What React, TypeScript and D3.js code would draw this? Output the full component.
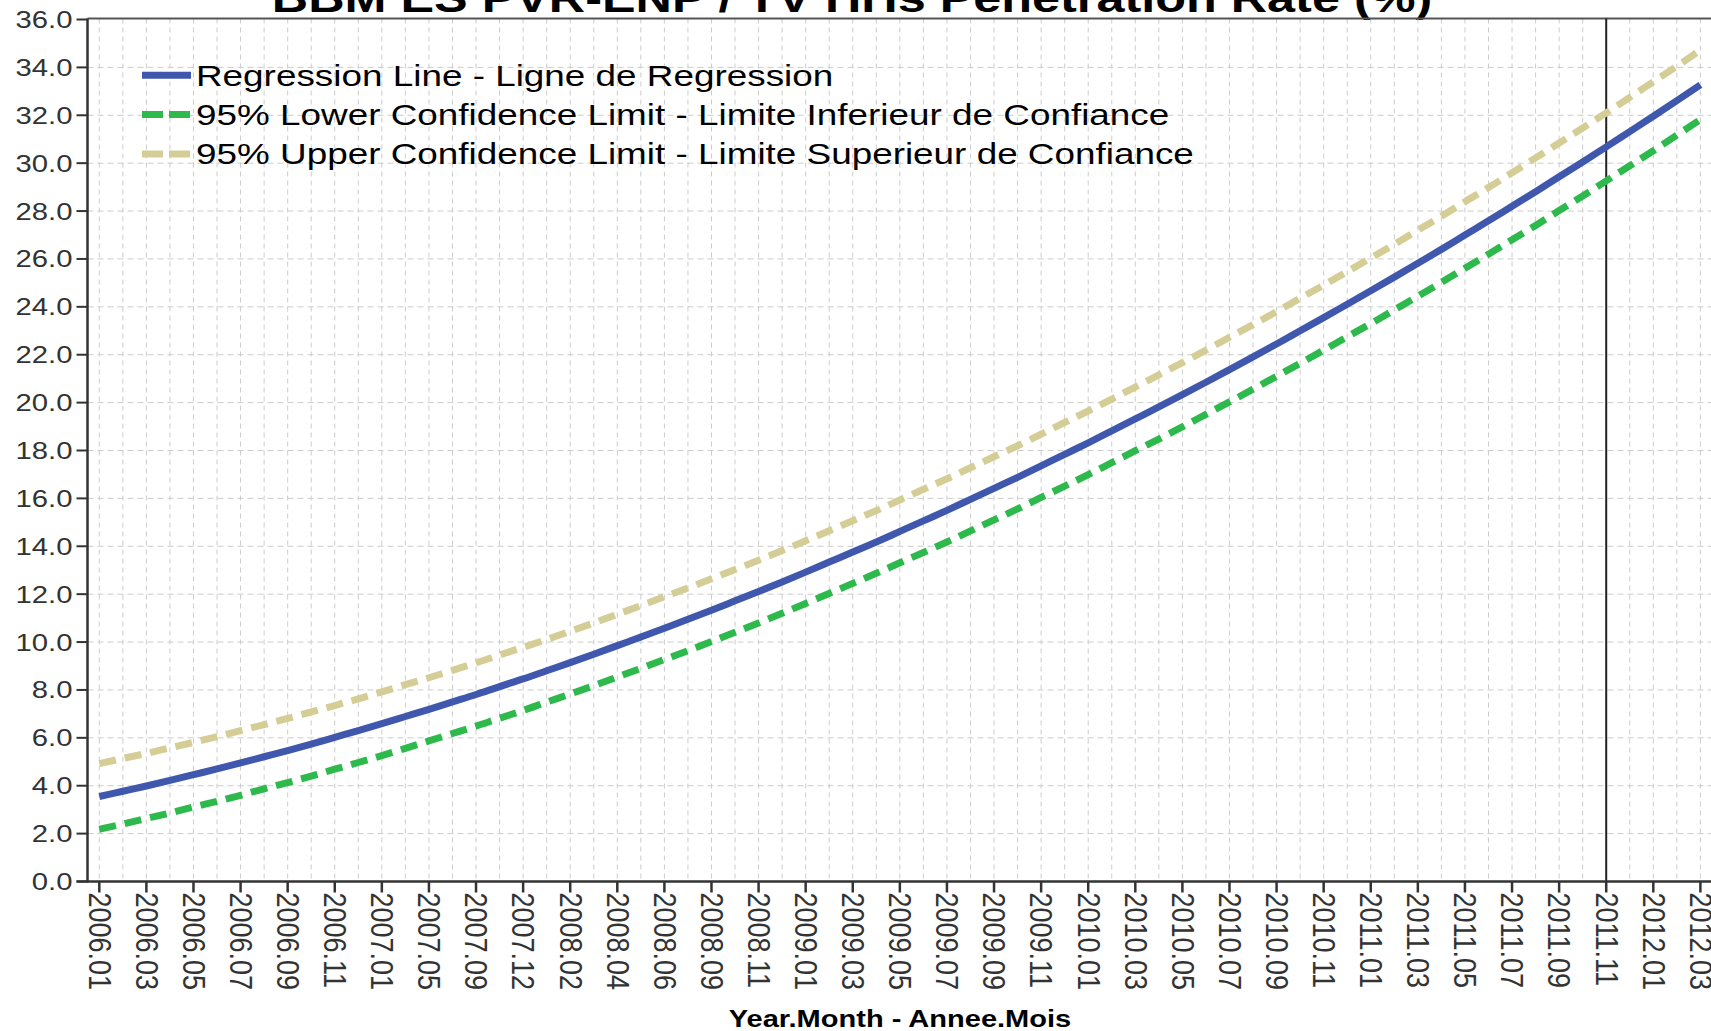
import React from 'react';
import * as d3 from 'd3';

const categories = [
  '2006.01','2006.02','2006.03','2006.04','2006.05','2006.06','2006.07','2006.08','2006.09','2006.10','2006.11','2006.12',
  '2007.01','2007.03','2007.05','2007.07','2007.09','2007.11','2007.12',
  '2008.01','2008.02','2008.03','2008.04','2008.05','2008.06','2008.07','2008.09','2008.10','2008.11','2008.12',
  '2009.01','2009.02','2009.03','2009.04','2009.05','2009.06','2009.07','2009.08','2009.09','2009.10','2009.11','2009.12',
  '2010.01','2010.02','2010.03','2010.04','2010.05','2010.06','2010.07','2010.08','2010.09','2010.10','2010.11','2010.12',
  '2011.01','2011.02','2011.03','2011.04','2011.05','2011.06','2011.07','2011.08','2011.09','2011.10','2011.11','2011.12',
  '2012.01','2012.02','2012.03'
];

const regression = [
  3.55,3.77,3.99,4.22,4.46,4.70,4.95,5.21,5.47,5.74,6.02,6.30,
  6.59,6.89,7.19,7.50,7.81,8.14,8.46,
  8.80,9.14,9.49,9.85,10.21,10.58,10.95,11.33,11.72,12.11,12.51,
  12.92,13.34,13.76,14.18,14.62,15.06,15.50,15.96,16.42,16.88,17.36,17.84,
  18.32,18.82,19.32,19.82,20.33,20.85,21.38,21.91,22.45,23.00,23.55,24.11,
  24.67,25.24,25.82,26.40,27.00,27.59,28.20,28.81,29.43,30.05,30.68,31.32,
  31.96,32.61,33.27
];

const lowerCL = [
  2.18,2.40,2.63,2.86,3.11,3.35,3.60,3.87,4.13,4.40,4.69,4.97,
  5.26,5.56,5.87,6.18,6.49,6.82,7.14,
  7.49,7.83,8.18,8.54,8.90,9.27,9.64,10.02,10.41,10.80,11.20,
  11.61,12.03,12.45,12.87,13.31,13.74,14.18,14.64,15.10,15.56,16.04,16.51,
  16.99,17.49,17.99,18.48,18.99,19.51,20.03,20.56,21.10,21.64,22.19,22.75,
  23.30,23.87,24.44,25.02,25.61,26.20,26.80,27.40,28.02,28.63,29.26,29.89,
  30.52,31.17,31.82
];

const upperCL = [
  4.92,5.14,5.35,5.58,5.81,6.05,6.30,6.55,6.81,7.08,7.35,7.63,
  7.92,8.22,8.51,8.82,9.13,9.46,9.78,
  10.11,10.45,10.80,11.16,11.52,11.89,12.26,12.64,13.03,13.42,13.82,
  14.23,14.65,15.07,15.49,15.93,16.38,16.82,17.28,17.74,18.20,18.68,19.17,
  19.65,20.15,20.65,21.16,21.67,22.19,22.73,23.26,23.80,24.36,24.91,25.47,
  26.04,26.61,27.20,27.78,28.39,28.98,29.60,30.22,30.84,31.47,32.10,32.75,
  33.40,34.05,34.72
];

const yTicks = [0, 2, 4, 6, 8, 10, 12, 14, 16, 18, 20, 22, 24, 26, 28, 30, 32, 34, 36];
const referenceCategory = '2011.11';

const titleText = 'BBM ES PVR-ENP / TV HHs Penetration Rate (%)';
const xAxisTitle = 'Year.Month - Annee.Mois';
const seriesNames = [
  'Regression Line - Ligne de Regression',
  '95% Lower Confidence Limit - Limite Inferieur de Confiance',
  '95% Upper Confidence Limit - Limite Superieur de Confiance',
];

const FONT = '"Liberation Sans", Arial, sans-serif';
const SX = 1.22;

export default function App() {
  const W = 1711;
  const H = 1031;
  const axisX = 87.5;
  const topY = 18.5;
  const bottomY = 881.5;

  const x = d3.scalePoint<string>().domain(categories).range([99.3, 1700.4]);
  const y = d3.scaleLinear().domain([0, 36]).range([bottomY, 19.5]);

  const line = d3
    .line<number>()
    .x((_, i) => x(categories[i]) as number)
    .y((d) => y(d))
    .curve(d3.curveMonotoneX);

  const labeled = categories.filter((_, i) => i % 2 === 0);

  const series = [
    { name: seriesNames[0], data: regression, color: '#3f58ad', dash: null as string | null, legendDash: null as string | null },
    { name: seriesNames[1], data: lowerCL, color: '#2db94b', dash: '17,9', legendDash: '21,6' },
    { name: seriesNames[2], data: upperCL, color: '#d5cd96', dash: '17,9', legendDash: '21,6' },
  ];

  const gridColor = '#cccccc';
  const refX = x(referenceCategory) as number;

  return (
    <svg
      width={W}
      height={H}
      style={{ position: 'absolute', left: 0, top: 0, background: '#fff', display: 'block' }}
    >
      <rect x={0} y={0} width={W} height={H} fill="#fff" />

      {/* title (cropped at top) */}
      <g transform={`translate(852, 11.5) scale(${SX},1)`}>
        <text textAnchor="middle" fontFamily={FONT} fontWeight="bold" fontSize={41.3} fill="#000">
          {titleText}
        </text>
      </g>

      {/* vertical grid */}
      {categories.map((c) => (
        <line
          key={'vg' + c}
          x1={x(c)}
          x2={x(c)}
          y1={topY}
          y2={bottomY}
          stroke={gridColor}
          strokeWidth={1}
          strokeDasharray="5,4"
        />
      ))}
      {/* horizontal grid */}
      {yTicks.filter((t) => t > 0 && t < 36).map((t) => (
        <line
          key={'hg' + t}
          x1={axisX}
          x2={W}
          y1={y(t)}
          y2={y(t)}
          stroke={gridColor}
          strokeWidth={1}
          strokeDasharray="6,4"
        />
      ))}

      {/* top border */}
      <line x1={axisX} x2={W} y1={topY} y2={topY} stroke="#555" strokeWidth={2} />

      {/* reference line */}
      <line x1={refX} x2={refX} y1={topY} y2={bottomY} stroke="#222" strokeWidth={2} />

      {/* series */}
      {series.map((s) => (
        <path
          key={s.name}
          d={line(s.data) as string}
          fill="none"
          stroke={s.color}
          strokeWidth={7}
          strokeDasharray={s.dash ?? undefined}
          strokeLinecap="butt"
        />
      ))}

      {/* y axis */}
      <line x1={axisX} x2={axisX} y1={topY} y2={bottomY + 1} stroke="#333" strokeWidth={2.5} />
      {yTicks.map((t) => (
        <g key={'yt' + t}>
          <line x1={axisX - 11} x2={axisX} y1={y(t)} y2={y(t)} stroke="#333" strokeWidth={2} />
          <g transform={`translate(${axisX - 15}, ${y(t) + 8.5}) scale(${SX},1)`}>
            <text textAnchor="end" fontFamily={FONT} fontSize={24} fill="#333">
              {t.toFixed(1)}
            </text>
          </g>
        </g>
      ))}

      {/* x axis */}
      <line x1={axisX - 11} x2={W} y1={bottomY} y2={bottomY} stroke="#333" strokeWidth={2.5} />
      {labeled.map((c) => (
        <g key={'xt' + c}>
          <line x1={x(c)} x2={x(c)} y1={bottomY} y2={bottomY + 11} stroke="#333" strokeWidth={2.5} />
          <g transform={`translate(${x(c)}, ${bottomY + 11}) scale(1.13,1) rotate(90)`}>
            <text fontFamily={FONT} fontSize={27} fill="#333" dy="0.35em">
              {c}
            </text>
          </g>
        </g>
      ))}

      {/* x axis title */}
      <g transform={`translate(900, 1027) scale(${SX},1)`}>
        <text textAnchor="middle" fontFamily={FONT} fontWeight="bold" fontSize={23.8} fill="#000">
          {xAxisTitle}
        </text>
      </g>

      {/* legend */}
      {series.map((s, i) => {
        const cy = 75.3 + i * 39.3;
        return (
          <g key={'lg' + s.name}>
            <line
              x1={142}
              x2={191}
              y1={cy}
              y2={cy}
              stroke={s.color}
              strokeWidth={7}
              strokeDasharray={s.legendDash ?? undefined}
            />
            <g transform={`translate(196, ${cy + 10.5}) scale(1.272,1)`}>
              <text fontFamily={FONT} fontSize={29} fill="#000">
                {s.name}
              </text>
            </g>
          </g>
        );
      })}
    </svg>
  );
}
